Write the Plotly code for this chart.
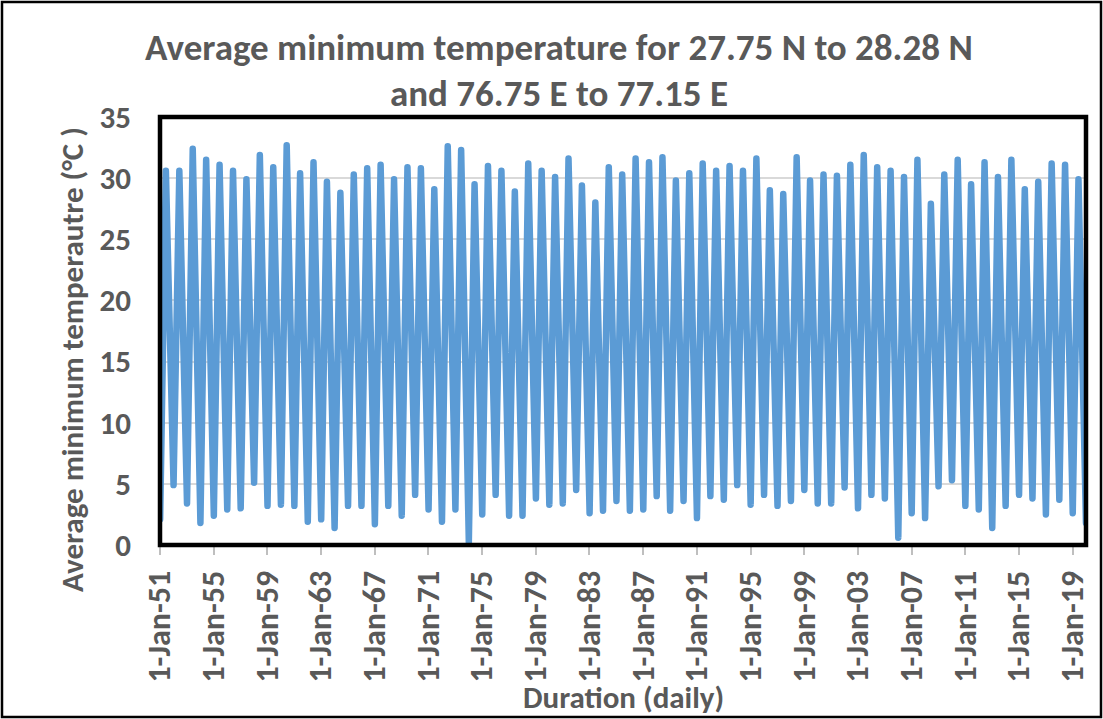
import plotly.graph_objects as go

# ---- data (°C) ----
years = list(range(1951, 2020))
summer_peaks = [30.6, 30.6, 32.4, 31.5, 31.1, 30.6, 29.9, 31.9, 30.9, 32.7,
                30.4, 31.3, 29.7, 28.8, 30.3, 30.8, 31.1, 29.9, 30.9, 30.8,
                29.1, 32.6, 32.3, 29.5, 31.0, 30.6, 28.9, 31.2, 30.6, 30.1,
                31.6, 29.4, 28.0, 30.9, 30.3, 31.6, 31.3, 31.7, 29.8, 30.4,
                31.2, 30.6, 31.0, 30.6, 31.6, 29.0, 28.7, 31.7, 29.8, 30.3,
                30.2, 31.1, 31.9, 30.9, 30.6, 30.1, 31.5, 27.9, 30.3, 31.5,
                29.5, 31.3, 30.1, 31.5, 29.1, 29.7, 31.2, 31.1, 29.9]
winter_troughs = [2.1, 4.9, 3.4, 1.8, 2.4, 2.9, 3.0, 5.1, 3.2, 3.3,
                  3.2, 1.9, 2.1, 1.4, 3.2, 3.2, 1.7, 3.2, 2.4, 4.1,
                  2.9, 1.9, 2.9, 0.2, 2.5, 4.1, 2.4, 2.4, 3.8, 3.3,
                  3.4, 4.5, 2.6, 2.8, 3.6, 2.8, 2.9, 4.0, 2.8, 3.6,
                  2.2, 4.0, 3.7, 4.9, 3.3, 4.1, 3.2, 3.6, 4.5, 3.4,
                  3.4, 4.7, 3.0, 4.1, 3.8, 0.6, 2.6, 2.2, 4.8, 5.3,
                  3.2, 2.9, 1.4, 3.2, 4.1, 3.8, 2.5, 3.7, 2.6]
last_date = "2019-12-31"
last_value = 1.8

tick_years = list(range(1951, 2020, 4))

# ---- build series ----
dates, temps = [], []
for y, lo, hi in zip(years, winter_troughs, summer_peaks):
    dates += [f"{y}-01-05", f"{y}-06-10"]
    temps += [lo, hi]
dates.append(last_date)
temps.append(last_value)

FONT = "Carlito, Calibri, Lato, sans-serif"
GREY = "#595959"
W, H = 1103, 719
ML, MR, MT, MB = 160, 17, 117, 174
PW, PH = W - ML - MR, H - MT - MB

def px(xp):
    return (xp - ML) / PW

def py(yp):
    return (H - MB - yp) / PH

fig = go.Figure()
fig.add_trace(go.Scatter(x=dates, y=temps, mode="lines",
                         line=dict(color="#5B9BD5", width=6.5),
                         showlegend=False, hoverinfo="skip"))

fig.update_layout(
    width=W, height=H,
    margin=dict(l=ML, r=MR, t=MT, b=MB),
    paper_bgcolor="white", plot_bgcolor="white",
    font=dict(family=FONT, color=GREY, size=30),
    showlegend=False,
)
fig.update_xaxes(
    type="date", range=["1951-01-01", "2020-01-01"],
    tickvals=[f"{y}-01-01" for y in tick_years],
    tickformat="%-d-%b-%y", tickangle=-90,
    tickfont=dict(family=FONT, size=32, color=GREY, weight="bold"),
    ticks="outside", ticklen=9, tickcolor="#BFBFBF", tickwidth=1.5,
    showline=True, linecolor="#BFBFBF", linewidth=1,
    showgrid=False, zeroline=False, ticklabelstandoff=3,
)
fig.update_yaxes(
    range=[0, 35], tickvals=[0, 5, 10, 15, 20, 25, 30, 35],
    tickfont=dict(family=FONT, size=31, color=GREY, weight="bold"),
    showgrid=True, gridcolor="#D9D9D9", gridwidth=1.5,
    zeroline=False, showline=False, ticks="", ticklabelstandoff=28,
)

# plot frame and outer border
fig.add_shape(type="rect", xref="paper", yref="paper", x0=0, x1=1, y0=0, y1=1,
              line=dict(color="black", width=4.5), layer="above")
fig.add_shape(type="rect", xref="paper", yref="paper",
              x0=px(2), x1=px(W - 2), y0=py(H - 2), y1=py(2),
              line=dict(color="black", width=2.5), layer="above")

# titles
ann = dict(xref="paper", yref="paper", showarrow=False,
           xanchor="center", yanchor="middle")
fig.add_annotation(text="<b>Average minimum temperature for 27.75 N to 28.28 N</b>",
                   x=px(559), y=py(48), font=dict(family=FONT, size=37, color=GREY), **ann)
fig.add_annotation(text="<b>and 76.75 E to 77.15 E</b>",
                   x=px(559), y=py(93), font=dict(family=FONT, size=37, color=GREY), **ann)
fig.add_annotation(text="<b>Average minimum temperautre (°C )</b>",
                   x=px(72), y=py(360), textangle=-90,
                   font=dict(family=FONT, size=31, color=GREY), **ann)
fig.add_annotation(text="<b>Duration (daily)</b>",
                   x=px(623), y=py(697), font=dict(family=FONT, size=31, color=GREY), **ann)

post = ("document.body.style.margin='0';document.body.style.padding='0';"
        "document.querySelectorAll('.scatterlayer path.js-line').forEach(function(p){"
        "p.style.strokeLinejoin='round';p.style.strokeLinecap='round';});")
fig.write_html("out.html", post_script=post, config={"displayModeBar": False})
